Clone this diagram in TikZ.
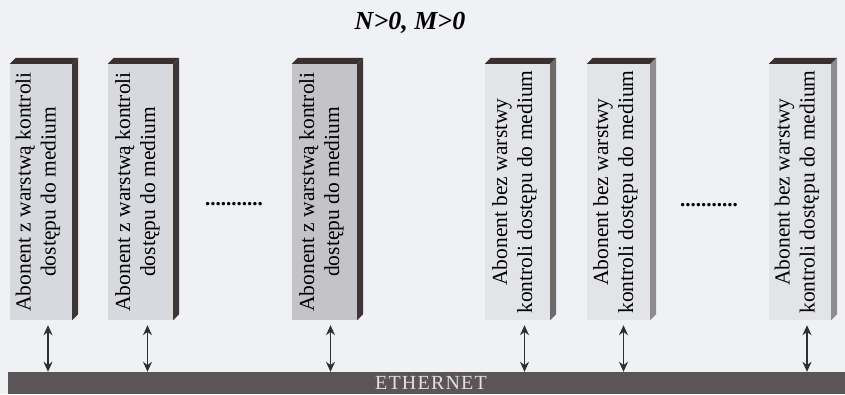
\documentclass[tikz,border=0pt]{standalone}
\usepackage{fontspec}
\setmainfont{Liberation Serif}
\usetikzlibrary{arrows.meta}
\definecolor{bgc}{HTML}{F0F1F5}
\definecolor{topc}{HTML}{3A3030}
\definecolor{sidedark}{HTML}{3E3636}
\definecolor{sidemid}{HTML}{6E6A6A}
\definecolor{sidelight}{HTML}{8E8C8E}
\definecolor{frontA}{HTML}{D8D9DE}
\definecolor{frontB}{HTML}{C4C4C8}
\definecolor{frontC}{HTML}{E3E4E8}
\definecolor{ethc}{HTML}{5C5558}
\definecolor{arrc}{HTML}{2A3035}
\tikzset{
  frontbox/.style={draw=none, inner sep=0pt, minimum width=#1, minimum height=256pt},
  boxtext/.style={rotate=90, align=center, inner sep=0pt,
    font=\fontsize{21.5pt}{25pt}\selectfont, text=black},
  linkarrow/.style={{Stealth[length=10pt,width=9pt]}-{Stealth[length=10pt,width=9pt]}, line width=1.5pt, draw=arrc},
  dotsstyle/.style={font=\fontsize{21pt}{25pt}\selectfont\bfseries, inner sep=0pt},
}
\newcommand{\boxfaces}[2]{%
  \fill[topc] (#1.north west) -- (#1.north east) -- ([shift={(6,-6)}]#1.north east) -- ([shift={(6,-6)}]#1.north west) -- cycle;
  \fill[#2] (#1.north east) -- ([shift={(6,-6)}]#1.north east) -- ([shift={(6,-6)}]#1.south east) -- (#1.south east) -- cycle;
}
\begin{document}
\begin{tikzpicture}[x=1pt,y=-1pt]
\fill[bgc] (0,0) rectangle (845,394);
\useasboundingbox (0,0) rectangle (845,394);

\node[font=\fontsize{26pt}{30pt}\selectfont\bfseries\itshape, inner sep=0pt] (title) at (410,23) {N>0, M>0};

% front faces
\node[frontbox=62pt, fill=frontA] (b1) at (41,192) {};
\node[frontbox=65pt, fill=frontA] (b2) at (140.5,192) {};
\node[frontbox=65pt, fill=frontB] (b3) at (324.5,192) {};
\node[frontbox=65pt, fill=frontC] (b4) at (517.5,192) {};
\node[frontbox=63pt, fill=frontC] (b5) at (618.5,192) {};
\node[frontbox=62pt, fill=frontC] (b6) at (800,192) {};

\boxfaces{b1}{sidedark}
\boxfaces{b2}{sidedark}
\boxfaces{b3}{sidedark}
\boxfaces{b4}{sidemid}
\boxfaces{b5}{sidelight}
\boxfaces{b6}{sidelight}

\node[boxtext] (t1) at ([xshift=-3pt]b1.center) {Abonent z warstwą kontroli\\dostępu do medium};
\node[boxtext] (t2) at ([xshift=-3pt]b2.center) {Abonent z warstwą kontroli\\dostępu do medium};
\node[boxtext] (t3) at ([xshift=-3pt]b3.center) {Abonent z warstwą kontroli\\dostępu do medium};
\node[boxtext] (t4) at ([xshift=-3pt]b4.center) {Abonent bez warstwy\\kontroli dostępu do medium};
\node[boxtext] (t5) at ([xshift=-3pt]b5.center) {Abonent bez warstwy\\kontroli dostępu do medium};
\node[boxtext] (t6) at ([xshift=-3pt]b6.center) {Abonent bez warstwy\\kontroli dostępu do medium};

\node[dotsstyle] (d1) at (234,204) {...........};
\node[dotsstyle] (d2) at (709,205) {...........};

% Ethernet bar
\node[draw=none, fill=ethc, inner sep=0pt, minimum width=837pt, minimum height=22pt] (eth) at (426.5,383) {};
\node[font=\fontsize{20pt}{22pt}\selectfont\addfontfeature{LetterSpace=6}, text=white!88!black, inner sep=0pt] (ethlabel) at (431,383) {ETHERNET};

% connectors
\foreach \b/\dx in {b1/7,b2/7,b3/6,b4/7,b5/5,b6/7}{
  \draw[linkarrow] ([xshift=\dx pt, yshift=-5pt]\b.south) -- ([xshift=\dx pt]\b.south |- eth.north);
}
\end{tikzpicture}
\end{document}
